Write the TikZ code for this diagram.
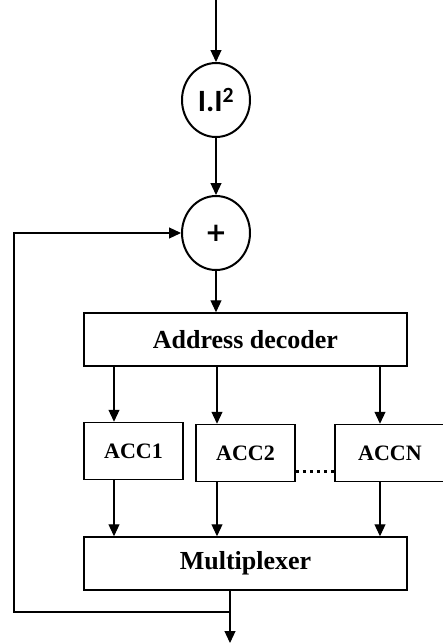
\documentclass[tikz,border=0pt]{standalone}
\usepackage{fontspec}
\setmainfont{Liberation Serif}
\newfontfamily\calibfont{Carlito}
\newfontfamily\plusfont{DejaVu Sans}
\usetikzlibrary{arrows.meta,shapes.geometric}
\begin{document}
\begin{tikzpicture}[x=1pt,y=-1pt,
		op/.style={draw,ellipse,line width=2pt,minimum width=68pt,minimum height=74pt,inner sep=0pt,font=\calibfont\bfseries\fontsize{31}{31}\selectfont},
		blk/.style={draw,line width=1.5pt,minimum width=323pt,minimum height=53pt,font=\bfseries\fontsize{26}{28}\selectfont},
		acc/.style={draw,line width=1.5pt,minimum height=57pt,font=\bfseries\fontsize{22}{24}\selectfont},
		sig/.style={line width=1.2pt,-{Triangle[width=11pt,length=12pt]}},
		wire/.style={line width=1.2pt}]
	\useasboundingbox (0,0) rectangle (443,643);
	\clip (0,0) rectangle (443,643);
	\node[op] (sq) at (216,100) {I.I\textsuperscript{2}};
	\node[op,font=\plusfont\bfseries\fontsize{26}{26}\selectfont] (sum) at (216,233) {+};
	\node[blk] (dec) at (245.5,339.5) {Address decoder};
	\node[acc,minimum width=99pt] (acc1) at (133.5,451) {ACC1};
	\node[acc,minimum width=99pt] (acc2) at (245.5,453) {ACC2};
	\node[acc,minimum width=110pt] (accn) at (390,453) {ACCN};
	\node[blk] (mux) at (245.5,563.5) {Multiplexer};
	\coordinate (in) at (216,0);
	\coordinate (out) at (230,643);
	\coordinate (fb) at (14,612);
	\draw[sig] (in) -- (sq.north);
	\draw[sig] (sq.south) -- (sum.north);
	\draw[sig] (sum.south) -- (sum.south |- dec.north);
	\foreach \n/\x in {acc1/114,acc2/217,accn/380}{
			\draw[sig] (\x,0 |- dec.south) -- (\x,0 |- \n.north);
			\draw[sig] (\x,0 |- \n.south) -- (\x,0 |- mux.north);
		}
	\draw[line width=3pt,dash pattern=on 3pt off 4pt] (acc2.east |- 0,471) -- (accn.west |- 0,471);
	\draw[sig] (mux.south -| out) -- (out);
	\draw[sig] (out |- fb) -- (fb) |- (sum.west);
\end{tikzpicture}
\end{document}
